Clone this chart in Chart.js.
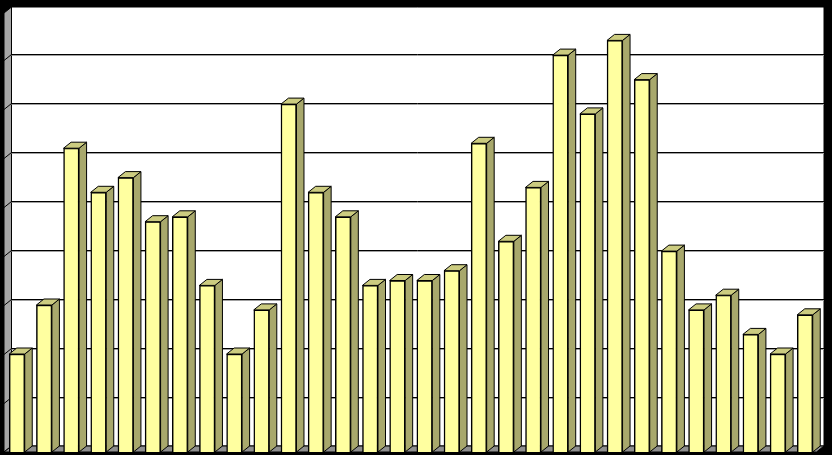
<!DOCTYPE html>
<html>
<head>
<meta charset="utf-8">
<style>
  html, body { margin: 0; padding: 0; background: #000; }
  canvas { display: block; }
</style>
<script src="https://cdn.jsdelivr.net/npm/chart.js@4"></script>
</head>
<body>
<canvas id="bars" width="832" height="455"></canvas>
<script>
const categories = ["1", "2", "3", "4", "5", "6", "7", "8", "9", "10",
  "11", "12", "13", "14", "15", "16", "17", "18", "19", "20",
  "21", "22", "23", "24", "25", "26", "27", "28", "29", "30"];
const values = [20, 30, 62, 53, 56, 47, 48, 34, 20, 29,
  71, 53, 48, 34, 35, 35, 37, 63, 43, 54,
  81, 69, 84, 76, 41, 29, 32, 24, 20, 28];
const yTicks = [0, 10, 20, 30, 40, 50, 60, 70, 80, 90];

const DEPTH_X = 7.5;
const DEPTH_Y = 6;
const COLORS = {
  front: "#ffffa0",
  side: "#a8a86c",
  top: "#cccc80",
  wall: "#a6a6a6",
  floor: "#8f8f8f",
  back: "#ffffff",
  line: "#000000",
};

function face(ctx, pts, fill) {
  ctx.beginPath();
  pts.forEach((p, i) => (i ? ctx.lineTo(p[0], p[1]) : ctx.moveTo(p[0], p[1])));
  ctx.closePath();
  ctx.fillStyle = fill;
  ctx.fill();
  ctx.stroke();
}

// the pseudo 3d box: side walls, floor and gridlines behind the bars
const box3d = {
  id: "box3d",
  beforeDatasetsDraw(chart) {
    const { ctx, scales } = chart;
    const y = scales.y;
    const left = 4;
    const right = 824;
    const top = y.getPixelForValue(90);
    const base = y.getPixelForValue(0);
    ctx.save();
    ctx.strokeStyle = COLORS.line;
    ctx.lineWidth = 1;
    face(ctx, [[left + DEPTH_X, top - DEPTH_Y + 2], [right, top - DEPTH_Y + 2], [right, base - DEPTH_Y], [left + DEPTH_X, base - DEPTH_Y]], COLORS.back);
    face(ctx, [[left, top + 2], [left + DEPTH_X, top - DEPTH_Y + 2], [left + DEPTH_X, base - DEPTH_Y], [left, base]], COLORS.wall);
    face(ctx, [[left, base], [left + DEPTH_X, base - DEPTH_Y], [right, base - DEPTH_Y], [right - DEPTH_X, base]], COLORS.floor);
    yTicks.slice(1, -1).forEach((t) => {
      const py = y.getPixelForValue(t);
      ctx.lineWidth = 1;
      ctx.strokeStyle = COLORS.line;
      ctx.beginPath();
      ctx.moveTo(left, py + 0.5);
      ctx.lineTo(left + DEPTH_X, py - DEPTH_Y + 0.5);
      ctx.lineTo(right, py - DEPTH_Y + 0.5);
      ctx.stroke();
      ctx.strokeStyle = "#a0a0a0";
      ctx.beginPath();
      ctx.moveTo(left + DEPTH_X, py - DEPTH_Y + 1.5);
      ctx.lineTo(right, py - DEPTH_Y + 1.5);
      ctx.stroke();
    });
    ctx.restore();
  },
  afterDatasetsDraw(chart) {
    const { ctx } = chart;
    ctx.save();
    ctx.strokeStyle = COLORS.line;
    ctx.lineWidth = 1;
    chart.getDatasetMeta(0).data.forEach((bar) => {
      const l = bar.x - bar.width / 2;
      const r = bar.x + bar.width / 2;
      face(ctx, [[r, bar.y], [r + DEPTH_X, bar.y - DEPTH_Y], [r + DEPTH_X, bar.base - DEPTH_Y], [r, bar.base]], COLORS.side);
      face(ctx, [[l, bar.y], [l + DEPTH_X, bar.y - DEPTH_Y], [r + DEPTH_X, bar.y - DEPTH_Y], [r, bar.y]], COLORS.top);
    });
    ctx.restore();
  },
};

new Chart(document.getElementById("bars"), {
  type: "bar",
  plugins: [box3d],
  data: {
    labels: categories,
    datasets: [{
      data: values,
      backgroundColor: COLORS.front,
      borderColor: COLORS.line,
      borderWidth: 1.5,
      barThickness: 15.5,
    }],
  },
  options: {
    responsive: false,
    animation: false,
    layout: { padding: { left: 3.4, right: 13.4, top: 11, bottom: 3 } },
    plugins: { legend: { display: false }, tooltip: { enabled: false } },
    scales: {
      x: { display: false },
      y: { display: false, min: 0, max: 90 },
    },
  },
});
</script>
</body>
</html>
